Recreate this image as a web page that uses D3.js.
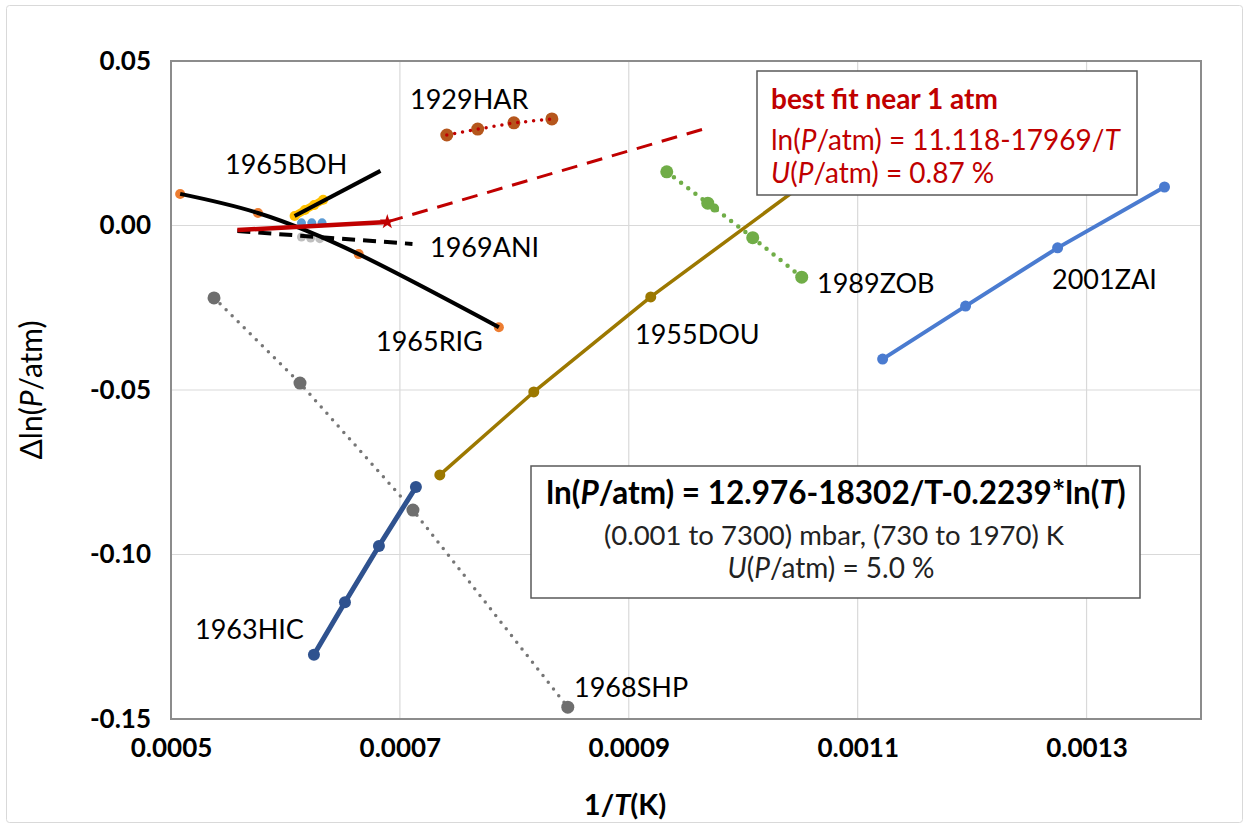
<!DOCTYPE html>
<html>
<head>
<meta charset="utf-8">
<script src="https://cdn.jsdelivr.net/npm/d3@7"></script>
<style>
  html, body { margin: 0; padding: 0; background: #fff; }
  svg { display: block; font-family: Lato, "Open Sans", sans-serif; }
</style>
</head>
<body>
<svg id="chart" width="1249" height="829"></svg>
<script>
// ---- axis ticks ----
const xTicks = [0.0005, 0.0007, 0.0009, 0.0011, 0.0013];
const yTicks = [0.05, 0.00, -0.05, -0.10, -0.15];

// ---- data series: 1/T (1/K) and deviation of ln(P/atm) ----
const rigX = [0.000508, 0.000576, 0.000664, 0.0007865];
const rigY = [0.0096, 0.0038, -0.0087, -0.0309];

const bohX = [0.000608, 0.000683];
const bohY = [0.0029, 0.0166];
const bohPtsX = [0.000608, 0.000617, 0.000625, 0.000633];
const bohPtsY = [0.0029, 0.0047, 0.0062, 0.0078];

const aniX = [0.000558, 0.000711];
const aniY = [-0.0017, -0.0056];
const aniPtsX = [0.000614, 0.000622, 0.000630];
const aniPtsY = [-0.0035, -0.0038, -0.0040];

const nearPtsX = [0.000614, 0.000623, 0.000632];
const nearPtsY = [0.0008, 0.0008, 0.0008];

const fitX = [0.000558, 0.000689];
const fitY = [-0.0014, 0.0011];
const fitExtX = [0.000689, 0.000965];
const fitExtY = [0.0011, 0.0293];

const harX = [0.000741, 0.000768, 0.0007996, 0.0008328];
const harY = [0.0275, 0.0293, 0.0312, 0.0324];

const zobX = [0.0009332, 0.000969, 0.0010083, 0.0010511];
const zobY = [0.0163, 0.0068, -0.0037, -0.0157];
const zobMinorX = [0.000975];
const zobMinorY = [0.0053];

const douX = [0.0007349, 0.000817, 0.0009192, 0.0010598];
const douY = [-0.0758, -0.0506, -0.0217, 0.0144];

const zaiX = [0.0011218, 0.0011943, 0.0012747, 0.0013681];
const zaiY = [-0.0406, -0.0245, -0.0068, 0.0117];

const hicX = [0.0006249, 0.000652, 0.0006817, 0.000714];
const hicY = [-0.1305, -0.1145, -0.0974, -0.0795];

const shpX = [0.0005376, 0.0006127, 0.0007114, 0.0008467];
const shpY = [-0.0220, -0.0479, -0.0865, -0.1464];

// ---- layout ----
const svg = d3.select("#chart");
const W = 1249, H = 829;
const plot = { left: 171, right: 1201, top: 61, bottom: 719 };

const x = d3.scaleLinear().domain([0.0005, 0.0014]).range([plot.left, plot.right]);
const y = d3.scaleLinear().domain([-0.15, 0.05]).range([plot.bottom, plot.top]);

const zip = (xs, ys) => xs.map((v, i) => [v, ys[i]]);

// outer chart frame
svg.append("rect")
  .attr("x", 6.5).attr("y", 5.5).attr("width", W - 13).attr("height", H - 12)
  .attr("rx", 3).attr("fill", "#fff").attr("stroke", "#d9d9d9").attr("stroke-width", 1);

// gridlines
const grid = svg.append("g");
grid.selectAll("line.v").data(d3.range(0.0005, 0.00141, 0.0002)).join("line")
  .attr("x1", d => x(d)).attr("x2", d => x(d))
  .attr("y1", plot.top).attr("y2", plot.bottom)
  .attr("stroke", "#d9d9d9").attr("stroke-width", 1.2);
grid.selectAll("line.h").data(yTicks).join("line")
  .attr("x1", plot.left).attr("x2", plot.right)
  .attr("y1", d => y(d)).attr("y2", d => y(d))
  .attr("stroke", "#d9d9d9").attr("stroke-width", 1.2);

// axes via d3 axis generators (labels only, no tick marks)
const xAxis = svg.append("g")
  .attr("transform", `translate(0,${plot.bottom})`)
  .call(d3.axisBottom(x).tickValues(xTicks).tickSize(0).tickPadding(30)
    .tickFormat(d => d.toFixed(4)));
const yAxis = svg.append("g")
  .attr("transform", `translate(${plot.left},0)`)
  .call(d3.axisLeft(y).tickValues(yTicks).tickSize(0).tickPadding(20)
    .tickFormat(d => (Math.abs(d) < 1e-12 ? "0.00" : d.toFixed(2))));
[xAxis, yAxis].forEach(a => {
  a.select(".domain").remove();
  a.selectAll("text")
    .attr("font-family", "Lato, sans-serif")
    .attr("font-weight", "bold")
    .attr("font-size", 26)
    .attr("fill", "#000");
});
xAxis.selectAll("text").attr("dy", "0.32em");

// plot-area border
svg.append("rect")
  .attr("x", plot.left).attr("y", plot.top)
  .attr("width", plot.right - plot.left).attr("height", plot.bottom - plot.top)
  .attr("fill", "none").attr("stroke", "#8c8c8c").attr("stroke-width", 2);

const line = d3.line().x(d => x(d[0])).y(d => y(d[1]));
const g = svg.append("g");

function drawLine(pts, color, width, dash, curve) {
  g.append("path")
    .attr("d", (curve ? d3.line().curve(curve).x(d => x(d[0])).y(d => y(d[1])) : line)(pts))
    .attr("fill", "none").attr("stroke", color).attr("stroke-width", width)
    .attr("stroke-dasharray", dash || null)
    .attr("stroke-linecap", dash && dash.startsWith("0") ? "round" : "butt")
    .attr("stroke-linejoin", "round");
}
function drawDots(pts, color, r, stroke) {
  g.append("g").selectAll("circle").data(pts).join("circle")
    .attr("cx", d => x(d[0])).attr("cy", d => y(d[1])).attr("r", r)
    .attr("fill", color).attr("stroke", stroke || "none").attr("stroke-width", 1);
}

// 1968SHP
drawLine(zip(shpX, shpY), "#767676", 3.5, "0 8.5");
drawDots(zip(shpX, shpY), "#6e6e6e", 6.5);
// 1963HIC
drawLine(zip(hicX, hicY), "#2f528f", 5);
drawDots(zip(hicX, hicY), "#2f528f", 6);
// 1955DOU
drawLine(zip(douX, douY), "#9c7800", 3.5);
drawDots(zip(douX, douY), "#9c7800", 5.5);
// 2001ZAI
drawLine(zip(zaiX, zaiY), "#4a7bd0", 4);
drawDots(zip(zaiX, zaiY), "#4a7bd0", 5.5);
// 1989ZOB
drawLine(zip(zobX, zobY), "#70ad47", 4.5, "0 9");
drawDots(zip(zobX, zobY), "#70ad47", 6.5);
drawDots(zip(zobMinorX, zobMinorY), "#70ad47", 4.5);
// 1929HAR
drawDots(zip(harX, harY), "#b5561c", 6.5);
drawLine(zip(harX, harY), "#c00000", 3.5, "0 8");
// best fit near 1 atm, extension
drawLine(zip(fitExtX, fitExtY), "#c00000", 3, "16 10");
// small markers near 0
drawDots(zip(aniPtsX, aniPtsY), "#bfbfbf", 4.5);
drawDots(zip(nearPtsX, nearPtsY), "#5b9bd5", 4.5);
// 1965RIG
drawDots(zip(rigX, rigY), "#ed7d31", 5);
drawLine(zip(rigX, rigY), "#000", 4, null, d3.curveNatural);
// 1965BOH
drawLine(zip(bohPtsX, bohPtsY), "#ffc000", 8);
drawDots(zip(bohPtsX, bohPtsY), "#ffc000", 5);
drawLine(zip(bohX, bohY), "#000", 4);
// 1969ANI
drawLine(zip(aniX, aniY), "#000", 4, "13 8");
// best fit near 1 atm
drawLine(zip(fitX, fitY), "#c00000", 4.5);
g.append("path")
  .attr("d", d3.symbol(d3.symbolStar, 70)())
  .attr("transform", `translate(${x(fitX[1])},${y(fitY[1])})`)
  .attr("fill", "#c00000");

// series labels
const labels = [
  ["1929HAR", 410, 100],
  ["1965BOH", 225, 165],
  ["1969ANI", 430, 248],
  ["1965RIG", 376, 342],
  ["1955DOU", 635, 335],
  ["1989ZOB", 817, 284],
  ["2001ZAI", 1052, 280],
  ["1963HIC", 195, 630],
  ["1968SHP", 574, 688]
];
svg.append("g").selectAll("text").data(labels).join("text")
  .attr("x", d => d[1]).attr("y", d => d[2])
  .attr("dy", "0.35em")
  .attr("font-size", 27).attr("fill", "#000")
  .text(d => d[0]);

// mixed-style text helper
function rich(parent, xPos, yPos, parts, opts) {
  const t = parent.append("text")
    .attr("x", xPos).attr("y", yPos).attr("dy", "0.35em")
    .attr("font-size", opts.size).attr("fill", opts.color)
    .attr("font-weight", opts.weight || "normal")
    .attr("text-anchor", opts.anchor || "start");
  parts.forEach(p => {
    const s = t.append("tspan").text(p[0]);
    if (p[1]) s.attr("font-style", "italic");
  });
  return t;
}

// box: best fit near 1 atm
const b1 = svg.append("g");
b1.append("rect").attr("x", 757).attr("y", 71).attr("width", 380).attr("height", 124)
  .attr("fill", "#fff").attr("stroke", "#595959").attr("stroke-width", 1.5);
rich(b1, 771, 99, [["best fit near 1 atm"]], { size: 28, color: "#c00000", weight: "bold" });
rich(b1, 771, 140, [["ln("], ["P", 1], ["/atm) = 11.118-17969/"], ["T", 1]], { size: 28, color: "#c00000" });
rich(b1, 771, 173, [["U", 1], ["("], ["P", 1], ["/atm) = 0.87 %"]], { size: 28, color: "#c00000" });

// box: overall equation
const b2 = svg.append("g");
b2.append("rect").attr("x", 531).attr("y", 466).attr("width", 609).attr("height", 132)
  .attr("fill", "#fff").attr("stroke", "#595959").attr("stroke-width", 1.5);
rich(b2, 836, 493, [["ln("], ["P", 1], ["/atm) = 12.976-18302/T-0.2239*ln("], ["T", 1], [")"]],
  { size: 31.5, color: "#000", weight: "bold", anchor: "middle" });
rich(b2, 834, 535, [["(0.001 to 7300) mbar, (730 to 1970) K"]], { size: 27.5, color: "#222", anchor: "middle" });
rich(b2, 831, 568, [["U", 1], ["("], ["P", 1], ["/atm) = 5.0 %"]], { size: 28, color: "#222", anchor: "middle" });

// axis titles
rich(svg, 625, 805, [["1/"], ["T", 1], ["(K)"]], { size: 29, color: "#000", weight: "bold", anchor: "middle" });
rich(svg.append("g").attr("transform", "translate(31,390) rotate(-90)"), 0, 0,
  [["\u0394ln("], ["P", 1], ["/atm)"]], { size: 30, color: "#000", anchor: "middle" });
</script>
</body>
</html>
